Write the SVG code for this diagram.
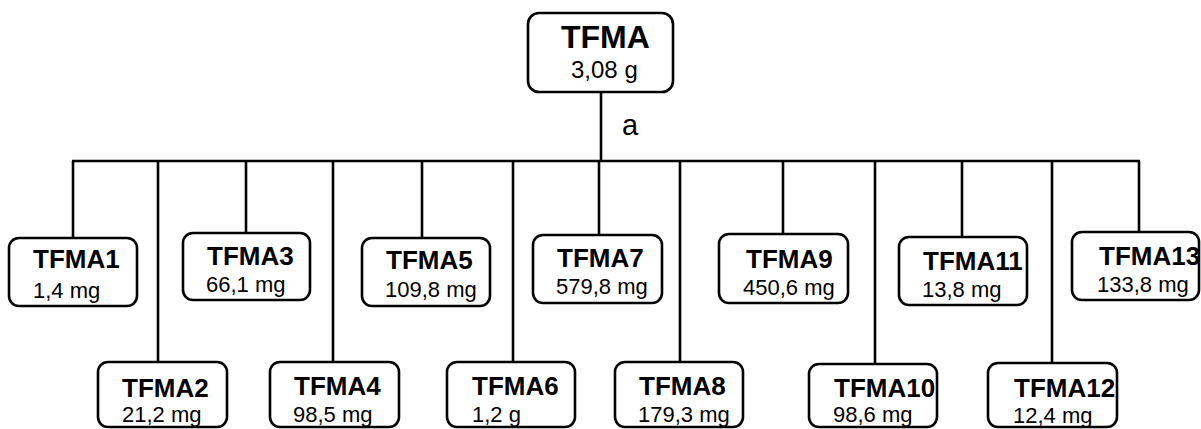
<svg xmlns="http://www.w3.org/2000/svg" width="1201" height="429" viewBox="0 0 1201 429">
<style>
.box{fill:#fff;stroke:#000;stroke-width:2.6}
.ln{stroke:#000;stroke-width:2.6;fill:none}
.t{font-family:"Liberation Sans",Arial,sans-serif;font-weight:bold;font-size:26px;fill:#000}
.s{font-family:"Liberation Sans",Arial,sans-serif;font-size:22px;fill:#000}
.tt{font-family:"Liberation Sans",Arial,sans-serif;font-weight:bold;font-size:32px;fill:#000}
.ts{font-family:"Liberation Sans",Arial,sans-serif;font-size:24px;fill:#000}
.a{font-family:"Liberation Sans",Arial,sans-serif;font-size:29px;fill:#000}
</style>
<rect width="1201" height="429" fill="#fff"/>
<g id="connectors">
<line class="ln" x1="601" y1="92" x2="601" y2="161"/>
<line class="ln" x1="72" y1="161" x2="1140" y2="161"/>
<line class="ln" x1="73" y1="161" x2="73" y2="238"/>
<line class="ln" x1="158" y1="161" x2="158" y2="362"/>
<line class="ln" x1="246" y1="161" x2="246" y2="233"/>
<line class="ln" x1="333" y1="161" x2="333" y2="362"/>
<line class="ln" x1="422" y1="161" x2="422" y2="238"/>
<line class="ln" x1="513" y1="161" x2="513" y2="362"/>
<line class="ln" x1="599" y1="161" x2="599" y2="235"/>
<line class="ln" x1="680" y1="161" x2="680" y2="362"/>
<line class="ln" x1="783" y1="161" x2="783" y2="234"/>
<line class="ln" x1="875" y1="161" x2="875" y2="364"/>
<line class="ln" x1="962" y1="161" x2="962" y2="237"/>
<line class="ln" x1="1052" y1="161" x2="1052" y2="363"/>
<line class="ln" x1="1139" y1="161" x2="1139" y2="232"/>
<text class="a" x="622" y="135">a</text>
</g>
<g id="TFMA">
<rect class="box" x="528" y="13" width="145" height="79" rx="11"/>
<text class="tt" x="561" y="48">TFMA</text>
<text class="ts" x="571" y="78">3,08 g</text>
</g>
<g id="TFMA1">
<rect class="box" x="9" y="238" width="128" height="68" rx="10"/>
<text class="t" x="33" y="268">TFMA1</text>
<text class="s" x="33" y="298">1,4 mg</text>
</g>
<g id="TFMA2">
<rect class="box" x="98" y="362" width="129" height="65" rx="10"/>
<text class="t" x="122" y="397">TFMA2</text>
<text class="s" x="122" y="422">21,2 mg</text>
</g>
<g id="TFMA3">
<rect class="box" x="183" y="233" width="127" height="67" rx="10"/>
<text class="t" x="207" y="265">TFMA3</text>
<text class="s" x="206" y="292">66,1 mg</text>
</g>
<g id="TFMA4">
<rect class="box" x="270" y="362" width="129" height="65" rx="10"/>
<text class="t" x="294" y="395">TFMA4</text>
<text class="s" x="293" y="422">98,5 mg</text>
</g>
<g id="TFMA5">
<rect class="box" x="362" y="238" width="128" height="68" rx="10"/>
<text class="t" x="386" y="269">TFMA5</text>
<text class="s" x="385" y="297">109,8 mg</text>
</g>
<g id="TFMA6">
<rect class="box" x="447" y="362" width="128" height="65" rx="10"/>
<text class="t" x="472" y="395">TFMA6</text>
<text class="s" x="472" y="422">1,2 g</text>
</g>
<g id="TFMA7">
<rect class="box" x="533" y="235" width="129" height="68" rx="10"/>
<text class="t" x="557" y="267">TFMA7</text>
<text class="s" x="556" y="294">579,8 mg</text>
</g>
<g id="TFMA8">
<rect class="box" x="615" y="362" width="128" height="65" rx="10"/>
<text class="t" x="639" y="395">TFMA8</text>
<text class="s" x="638" y="422">179,3 mg</text>
</g>
<g id="TFMA9">
<rect class="box" x="719" y="234" width="129" height="69" rx="10"/>
<text class="t" x="746" y="268">TFMA9</text>
<text class="s" x="743" y="295">450,6 mg</text>
</g>
<g id="TFMA10">
<rect class="box" x="809" y="364" width="128" height="63" rx="10"/>
<text class="t" x="834" y="397">TFMA10</text>
<text class="s" x="833" y="422">98,6 mg</text>
</g>
<g id="TFMA11">
<rect class="box" x="899" y="237" width="128" height="68" rx="10"/>
<text class="t" x="923" y="270">TFMA11</text>
<text class="s" x="922" y="297">13,8 mg</text>
</g>
<g id="TFMA12">
<rect class="box" x="988" y="363" width="129" height="64" rx="10"/>
<text class="t" x="1014" y="397">TFMA12</text>
<text class="s" x="1013" y="423">12,4 mg</text>
</g>
<g id="TFMA13">
<rect class="box" x="1072" y="232" width="127" height="68" rx="10"/>
<text class="t" x="1099" y="265">TFMA13</text>
<text class="s" x="1097" y="292">133,8 mg</text>
</g>
</svg>
